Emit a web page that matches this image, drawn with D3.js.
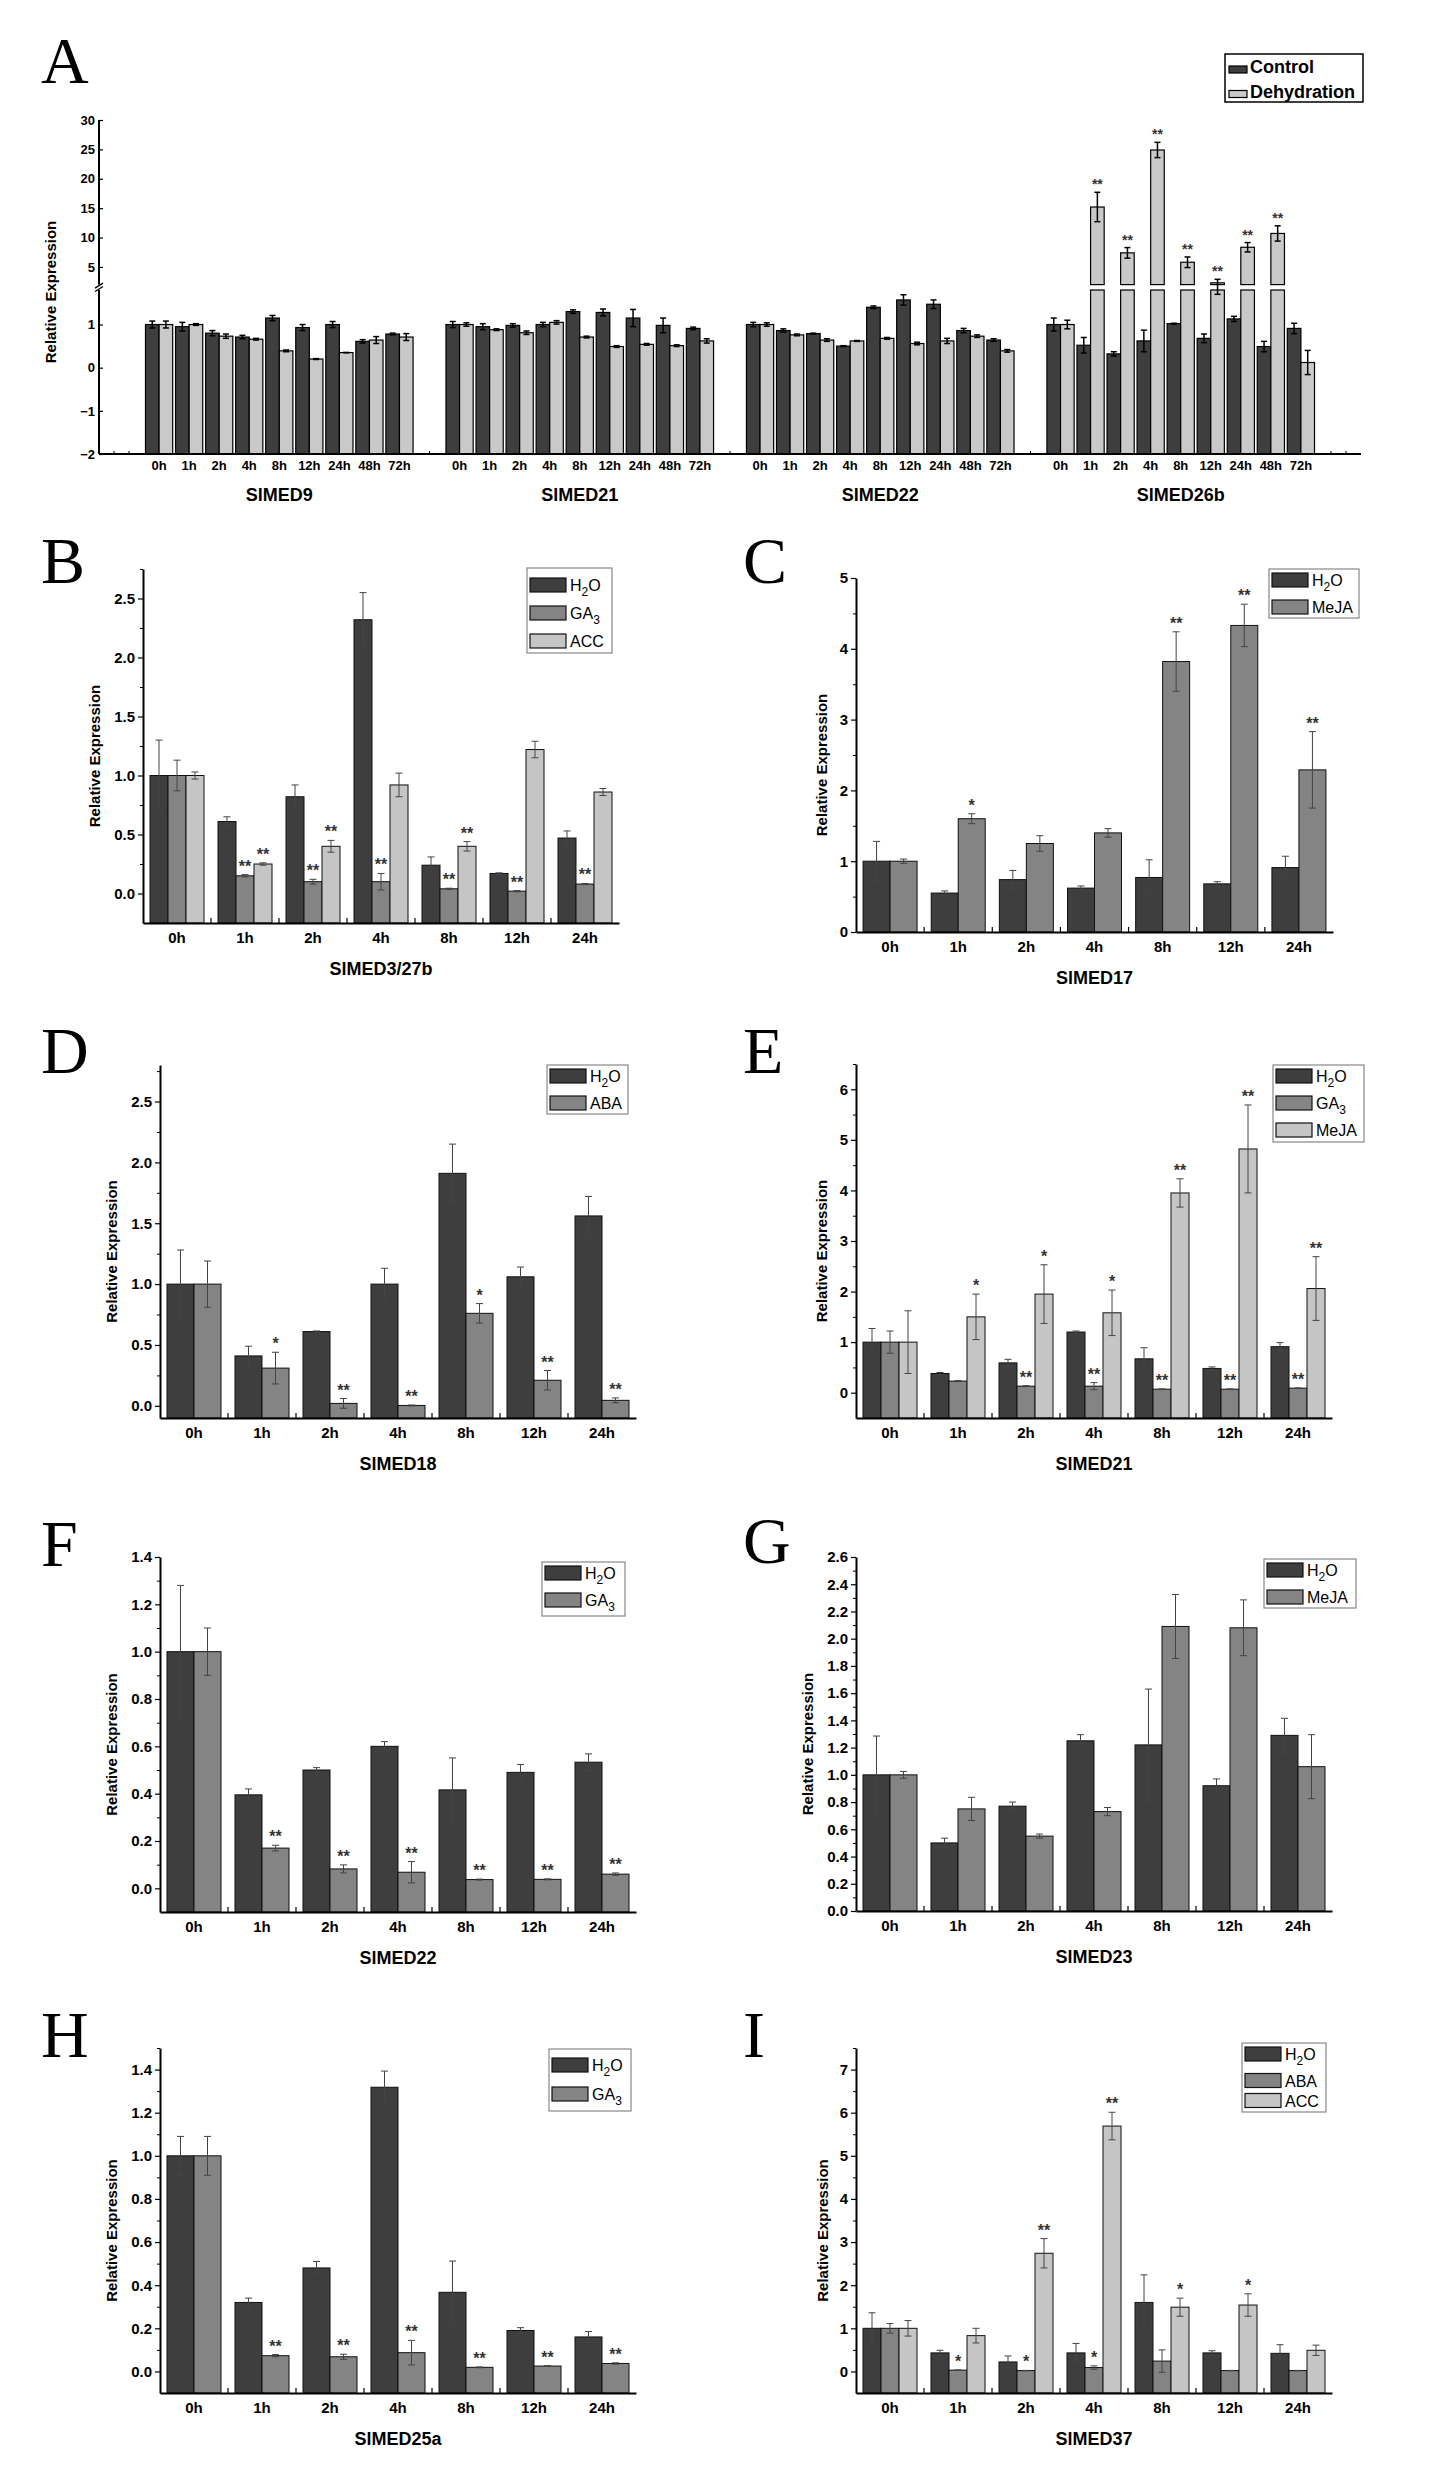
<!DOCTYPE html>
<html><head><meta charset="utf-8">
<script src="https://cdn.jsdelivr.net/npm/d3@7"></script>
<style>body{margin:0;background:#fff}svg{display:block}</style>
</head><body>
<svg id="fig" width="1432" height="2487"></svg>
<script>
// ---------------- DATA ----------------
// Panel A
const timesA = ["0h","1h","2h","4h","8h","12h","24h","48h","72h"];
const genesA = ["SlMED9","SlMED21","SlMED22","SlMED26b"];
const seriesA = ["Control","Dehydration"];
const controlA = [
 [1.00,0.95,0.80,0.71,1.15,0.93,1.00,0.61,0.78],
 [1.00,0.95,0.98,1.00,1.30,1.28,1.15,0.98,0.91],
 [1.00,0.86,0.79,0.50,1.40,1.57,1.47,0.86,0.64],
 [1.00,0.52,0.32,0.62,1.02,0.68,1.13,0.49,0.91]];
const controlErrA = [
 [0.08,0.10,0.06,0.04,0.06,0.07,0.07,0.04,0.02],
 [0.07,0.07,0.04,0.05,0.04,0.08,0.20,0.17,0.03],
 [0.05,0.04,0.01,0.01,0.03,0.12,0.10,0.05,0.03],
 [0.15,0.18,0.05,0.25,0.01,0.10,0.06,0.12,0.12]];
const dehydA = [
 [1.00,1.00,0.73,0.66,0.39,0.20,0.35,0.64,0.71],
 [1.00,0.88,0.81,1.05,0.71,0.49,0.54,0.51,0.62],
 [1.00,0.76,0.64,0.62,0.68,0.56,0.62,0.73,0.39],
 [1.00,15.2,7.4,24.9,5.8,2.3,8.35,10.7,0.12]];
const dehydErrA = [
 [0.08,0.02,0.05,0.02,0.02,0.01,0.00,0.08,0.08],
 [0.04,0.02,0.04,0.04,0.02,0.02,0.02,0.02,0.05],
 [0.04,0.02,0.03,0.01,0.02,0.03,0.06,0.03,0.03],
 [0.10,2.5,0.9,1.3,0.9,0.6,0.8,1.3,0.28]];
const dehydSigA = [
 ["","","","","","","","",""],
 ["","","","","","","","",""],
 ["","","","","","","","",""],
 ["","**","**","**","**","**","**","**",""]];
const yTicksLowA = [-2,-1,0,1];
const yTicksUpA = [5,10,15,20,25,30];

// Panels B - I
const timesBI = ["0h","1h","2h","4h","8h","12h","24h"];

const seriesB = ["H2O","GA3","ACC"];
const valsB = [[1.00,0.61,0.82,2.32,0.24,0.17,0.47],[1.00,0.15,0.10,0.10,0.04,0.02,0.08],[1.00,0.25,0.40,0.92,0.40,1.22,0.86]];
const errsB = [[0.30,0.04,0.10,0.23,0.07,0.005,0.06],[0.13,0.01,0.02,0.07,0.005,0.005,0.005],[0.03,0.01,0.05,0.10,0.04,0.07,0.03]];
const sigsB = [["","","","","","",""],["","**","**","**","**","**","**"],["","**","**","","**","",""]];
const ticksB = [0,0.5,1.0,1.5,2.0,2.5];

const seriesC = ["H2O","MeJA"];
const valsC = [[1.0,0.55,0.74,0.62,0.77,0.68,0.91],[1.0,1.60,1.25,1.40,3.82,4.33,2.29]];
const errsC = [[0.28,0.03,0.13,0.03,0.25,0.03,0.16],[0.03,0.07,0.11,0.06,0.42,0.30,0.54]];
const sigsC = [["","","","","","",""],["","*","","","**","**","**"]];
const ticksC = [0,1,2,3,4,5];

const seriesD = ["H2O","ABA"];
const valsD = [[1.0,0.41,0.61,1.00,1.91,1.06,1.56],[1.0,0.31,0.02,0.003,0.76,0.21,0.045]];
const errsD = [[0.28,0.08,0.005,0.13,0.24,0.08,0.16],[0.19,0.13,0.04,0.004,0.08,0.08,0.02]];
const sigsD = [["","","","","","",""],["","*","**","**","*","**","**"]];
const ticksD = [0,0.5,1.0,1.5,2.0,2.5];

const seriesE = ["H2O","GA3","MeJA"];
const valsE = [[1.0,0.38,0.59,1.20,0.67,0.48,0.91],[1.0,0.23,0.13,0.13,0.07,0.07,0.09],[1.0,1.50,1.95,1.58,3.95,4.82,2.06]];
const errsE = [[0.27,0.02,0.07,0.02,0.22,0.03,0.08],[0.22,0.01,0.01,0.07,0.005,0.005,0.005],[0.62,0.45,0.58,0.45,0.28,0.87,0.63]];
const sigsE = [["","","","","","",""],["","","**","**","**","**","**"],["","*","*","*","**","**","**"]];
const ticksE = [0,1,2,3,4,5,6];

const seriesF = ["H2O","GA3"];
const valsF = [[1.0,0.395,0.50,0.60,0.416,0.49,0.533],[1.0,0.17,0.082,0.068,0.037,0.038,0.06]];
const errsF = [[0.28,0.025,0.01,0.02,0.135,0.033,0.035],[0.10,0.012,0.017,0.045,0.002,0.002,0.005]];
const sigsF = [["","","","","","",""],["","**","**","**","**","**","**"]];
const ticksF = [0,0.2,0.4,0.6,0.8,1.0,1.2,1.4];

const seriesG = ["H2O","MeJA"];
const valsG = [[1.0,0.50,0.77,1.25,1.22,0.92,1.29],[1.0,0.75,0.55,0.73,2.09,2.08,1.06]];
const errsG = [[0.285,0.035,0.03,0.045,0.41,0.05,0.125],[0.025,0.085,0.015,0.03,0.235,0.205,0.235]];
const sigsG = [["","","","","","",""],["","","","","","",""]];
const ticksG = [0,0.2,0.4,0.6,0.8,1.0,1.2,1.4,1.6,1.8,2.0,2.2,2.4,2.6];

const seriesH = ["H2O","GA3"];
const valsH = [[1.0,0.32,0.48,1.318,0.367,0.19,0.16],[1.0,0.073,0.068,0.087,0.019,0.025,0.037]];
const errsH = [[0.09,0.02,0.03,0.075,0.145,0.013,0.025],[0.09,0.005,0.012,0.057,0.002,0.002,0.003]];
const sigsH = [["","","","","","",""],["","**","**","**","**","**","**"]];
const ticksH = [0,0.2,0.4,0.6,0.8,1.0,1.2,1.4];

const seriesI = ["H2O","ABA","ACC"];
const valsI = [[1.0,0.43,0.22,0.43,1.60,0.43,0.42],[1.0,0.03,0.02,0.09,0.24,0.02,0.02],[1.0,0.83,2.74,5.69,1.49,1.54,0.49]];
const errsI = [[0.36,0.06,0.14,0.22,0.64,0.05,0.20],[0.11,0.005,0.005,0.04,0.26,0.005,0.005],[0.18,0.17,0.34,0.32,0.21,0.26,0.12]];
const sigsI = [["","","","","","",""],["","*","*","*","","",""],["","","**","**","*","*",""]];
const ticksI = [0,1,2,3,4,5,6,7];

const genesBI = ["SlMED3/27b","SlMED17","SlMED18","SlMED21","SlMED22","SlMED23","SlMED25a","SlMED37"];
const lettersBI = ["B","C","D","E","F","G","H","I"];

// ---------------- LAYOUT / STYLE ----------------
const FONT = "'Liberation Sans', Arial, Helvetica, sans-serif";
const SERIF = "'Liberation Serif', 'Times New Roman', serif";
const COLORS = ["#3e3e3e","#848484","#c5c5c5"];
const svg = d3.select("#fig");
svg.append("rect").attr("width",1432).attr("height",2487).attr("fill","#fff");

function letter(txt, x, y){
  svg.append("text").attr("x",x).attr("y",y).attr("font-family",SERIF)
    .attr("font-size",66).attr("fill","#000").text(txt);
}
function richLabel(sel, label){
  const parts = label.match(/[A-Za-z]+|\d/g);
  let sub = false;
  parts.forEach(p => {
    if (/\d/.test(p)) { sel.append("tspan").attr("dy",5).attr("font-size",12).text(p); sub = true; }
    else { const t = sel.append("tspan"); if (sub) { t.attr("dy",-5); sub = false; } t.text(p); }
  });
}

// ---------------- PANEL A ----------------
(function(){
  const g = svg.append("g");
  const ax0 = 99, ax1 = 1361, yBase = 454;
  const slot = d3.scaleLinear().domain([0,42]).range([ax0,ax1]);
  const yLow = d3.scaleLinear().domain([-2,1.8]).range([yBase,290]);
  const yUp = d3.scaleLinear().domain([2,30]).range([284.6,120]);
  const yA = v => v <= 1.8 ? yLow(v) : (v >= 2 ? yUp(v) : yLow(1.8) + (v-1.8)/0.2*(yUp(2)-yLow(1.8)));
  const slotW = slot(1) - slot(0);
  const bw = 13.6;
  const groups = genesA.map((gene, gi) => ({gene, gi}));

  [controlA, dehydA].forEach((vals, si) => {
    const errs = si === 0 ? controlErrA : dehydErrA;
    const fill = si === 0 ? "#3e3e3e" : "#c9c9c9";
    groups.forEach(({gi}) => {
      vals[gi].forEach((v, ti) => {
        const cx = slot(1.5 + gi*10 + ti) + slotW/2;
        const bx = si === 0 ? cx - bw : cx;
        if (v <= 1.8) {
          g.append("rect").attr("x",bx).attr("y",yA(v)).attr("width",bw).attr("height",yA(-2)-yA(v))
            .attr("fill",fill).attr("stroke","#000").attr("stroke-width",1.2);
        } else {
          g.append("rect").attr("x",bx).attr("y",yLow(1.8)).attr("width",bw).attr("height",yLow(-2)-yLow(1.8))
            .attr("fill",fill).attr("stroke","#000").attr("stroke-width",1.2);
          g.append("rect").attr("x",bx).attr("y",yUp(v)).attr("width",bw).attr("height",yUp(2)-yUp(v))
            .attr("fill",fill).attr("stroke","#000").attr("stroke-width",1.2);
        }
        const e = errs[gi][ti], ex = bx + bw/2;
        const y1 = yA(v+e), y2 = yA(v-e);
        g.append("line").attr("x1",ex).attr("x2",ex).attr("y1",y1).attr("y2",y2).attr("stroke","#000").attr("stroke-width",1.5);
        [y1,y2].forEach(yy => g.append("line").attr("x1",ex-3).attr("x2",ex+3).attr("y1",yy).attr("y2",yy).attr("stroke","#000").attr("stroke-width",1.5));
        if (si === 1 && dehydSigA[gi][ti]) {
          g.append("text").attr("x",ex).attr("y",y1-3).attr("text-anchor","middle")
            .attr("font-family",FONT).attr("font-size",14).attr("font-weight","bold").attr("fill","#333").text(dehydSigA[gi][ti]);
        }
      });
    });
  });

  // y axis
  g.append("line").attr("x1",ax0).attr("x2",ax0).attr("y1",yUp(30)).attr("y2",yBase).attr("stroke","#000").attr("stroke-width",2);
  g.append("rect").attr("x",ax0-4).attr("y",yUp(2)).attr("width",8).attr("height",yLow(1.8)-yUp(2)).attr("fill","#fff");
  [yUp(2)+1, yLow(1.8)-1].forEach(yy => g.append("line").attr("x1",ax0-4).attr("x2",ax0+4).attr("y1",yy+2.5).attr("y2",yy-2.5).attr("stroke","#000").attr("stroke-width",1.3));
  const axLow = d3.axisLeft(yLow).tickValues(yTicksLowA).tickSize(-4).tickPadding(4).tickFormat(d3.format("d"));
  const axUp = d3.axisLeft(yUp).tickValues(yTicksUpA).tickSize(-4).tickPadding(4).tickFormat(d3.format("d"));
  [axLow, axUp].forEach(ax => {
    const a = g.append("g").attr("transform",`translate(${ax0},0)`).call(ax);
    a.select(".domain").remove();
    a.attr("font-family",FONT).attr("font-size",13).attr("font-weight","bold");
    a.selectAll("line").attr("stroke","#000").attr("stroke-width",1.2);
  });
  // x axis
  g.append("line").attr("x1",ax0).attr("x2",ax1).attr("y1",yBase).attr("y2",yBase).attr("stroke","#000").attr("stroke-width",2);
  [0.5,1,11,21,31,41,41.5].forEach(s => g.append("line").attr("x1",slot(s)).attr("x2",slot(s)).attr("y1",yBase).attr("y2",yBase-3).attr("stroke","#000"));
  groups.forEach(({gene, gi}) => {
    timesA.forEach((t, ti) => {
      g.append("text").attr("x",slot(1.5+gi*10+ti)+slotW/2).attr("y",yBase+16).attr("text-anchor","middle")
        .attr("font-family",FONT).attr("font-size",13).attr("font-weight","bold").text(t);
    });
    g.append("text").attr("x",slot(1.5+gi*10+4.5)).attr("y",yBase+47).attr("text-anchor","middle")
      .attr("font-family",FONT).attr("font-size",18).attr("font-weight","bold").text(gene);
  });
  g.append("text").attr("transform",`translate(50,${(yUp(30)+yBase)/2+5}) rotate(-90)`).attr("text-anchor","middle")
    .attr("dominant-baseline","central").attr("font-family",FONT).attr("font-size",15).attr("font-weight","bold").text("Relative Expression");
  // legend
  const lg = g.append("g");
  lg.append("rect").attr("x",1225).attr("y",54).attr("width",138).attr("height",48).attr("fill","#fff").attr("stroke","#000").attr("stroke-width",1.5);
  seriesA.forEach((s, i) => {
    lg.append("rect").attr("x",1229).attr("y",66+i*24.5).attr("width",18).attr("height",7)
      .attr("fill", i===0 ? "#3e3e3e" : "#c9c9c9").attr("stroke","#000").attr("stroke-width",1.2);
    lg.append("text").attr("x",1250).attr("y",73+i*24.5).attr("font-family",FONT).attr("font-size",18)
      .attr("font-weight","bold").text(s);
  });
  letter("A", 41, 83);
})();

// ---------------- PANELS B - I ----------------
const dataBI = [
  {series:seriesB, vals:valsB, errs:errsB, sigs:sigsB, ticks:ticksB},
  {series:seriesC, vals:valsC, errs:errsC, sigs:sigsC, ticks:ticksC},
  {series:seriesD, vals:valsD, errs:errsD, sigs:sigsD, ticks:ticksD},
  {series:seriesE, vals:valsE, errs:errsE, sigs:sigsE, ticks:ticksE},
  {series:seriesF, vals:valsF, errs:errsF, sigs:sigsF, ticks:ticksF},
  {series:seriesG, vals:valsG, errs:errsG, sigs:sigsG, ticks:ticksG},
  {series:seriesH, vals:valsH, errs:errsH, sigs:sigsH, ticks:ticksH},
  {series:seriesI, vals:valsI, errs:errsI, sigs:sigsI, ticks:ticksI}
];
const layoutBI = [
  {x0:143,x1:619, yTop:569, yBot:923, dom:[-0.25,2.75], minor:0.25, fmt:".1f", tdx:49, lx:41, ly:583,
   leg:{x:527,y:568,w:85,h:85,rows:[17,45,73]}},
  {x0:856,x1:1333,yTop:578, yBot:932, dom:[0,5], minor:0.5, fmt:"d", tdx:35, lx:743, ly:583,
   leg:{x:1269,y:569,w:90,h:49,rows:[11,38]}},
  {x0:160,x1:636, yTop:1065,yBot:1418,dom:[-0.1,2.8], minor:0.25, fmt:".1f", tdx:49, lx:41, ly:1073,
   leg:{x:547,y:1065,w:81,h:49,rows:[11,38]}},
  {x0:856,x1:1332,yTop:1064,yBot:1418,dom:[-0.5,6.5], minor:0.5, fmt:"d", tdx:35, lx:743, ly:1073,
   leg:{x:1273,y:1065,w:91,h:77,rows:[11,38,65]}},
  {x0:160,x1:636, yTop:1557,yBot:1912,dom:[-0.1,1.4], minor:0.1, fmt:".1f", tdx:49, lx:41, ly:1566,
   leg:{x:542,y:1562,w:83,h:54,rows:[11,38]}},
  {x0:856,x1:1332,yTop:1557,yBot:1911,dom:[0,2.6], minor:0.1, fmt:".1f", tdx:49, lx:743, ly:1563,
   leg:{x:1264,y:1559,w:92,h:49,rows:[11,38]}},
  {x0:160,x1:636, yTop:2048,yBot:2393,dom:[-0.1,1.5], minor:0.1, fmt:".1f", tdx:49, lx:41, ly:2057,
   leg:{x:549,y:2049,w:82,h:62,rows:[16,45]}},
  {x0:856,x1:1332,yTop:2048,yBot:2393,dom:[-0.5,7.5], minor:0.5, fmt:"d", tdx:34, lx:743, ly:2057,
   leg:{x:1242,y:2043,w:84,h:69,rows:[11,37.5,57.5]}}
];

function drawPanel(L, D, gene, let_){
  const g = svg.append("g");
  const x = d3.scaleBand().domain(timesBI).range([L.x0, L.x1]);
  const y = d3.scaleLinear().domain(L.dom).range([L.yBot, L.yTop]);
  const n = D.vals.length, gw = 54;
  const inner = d3.scaleBand().domain(d3.range(n)).range([0, gw]);
  const off = (x.bandwidth() - gw) / 2;

  // minor y ticks
  const minorVals = d3.range(Math.ceil(L.dom[0]/L.minor-1e-9), Math.floor(L.dom[1]/L.minor+1e-9)+1)
    .map(k => +(k*L.minor).toFixed(4)).filter(v => !D.ticks.some(t => Math.abs(t-v) < 1e-6) && v > L.dom[0] + 1e-6);
  const mi = g.append("g").attr("transform",`translate(${L.x0},0)`)
    .call(d3.axisLeft(y).tickValues(minorVals).tickSize(3).tickFormat(""));
  mi.select(".domain").remove();
  mi.selectAll("line").attr("stroke","#000");

  D.vals.forEach((arr, si) => {
    arr.forEach((v, ti) => {
      const bx = x(timesBI[ti]) + off + inner(si);
      g.append("rect").attr("x",bx).attr("y",y(v)).attr("width",inner.bandwidth())
        .attr("height",y(L.dom[0]) - y(v)).attr("fill",COLORS[si]).attr("stroke","#111").attr("stroke-width",1);
    });
  });
  D.vals.forEach((arr, si) => {
    arr.forEach((v, ti) => {
      const ex = x(timesBI[ti]) + off + inner(si) + inner.bandwidth()/2;
      const e = D.errs[si][ti];
      const y1 = y(v + e), y2 = y(v - e);
      g.append("line").attr("x1",ex).attr("x2",ex).attr("y1",y1).attr("y2",y2).attr("stroke","#444").attr("stroke-width",1);
      [y1, y2].forEach(yy => g.append("line").attr("x1",ex-3.5).attr("x2",ex+3.5).attr("y1",yy).attr("y2",yy).attr("stroke","#444").attr("stroke-width",1));
      const s = D.sigs[si][ti];
      if (s) g.append("text").attr("x",ex).attr("y",y1-3).attr("text-anchor","middle").attr("font-family",FONT)
        .attr("font-size",16).attr("font-weight","bold").attr("fill","#333").text(s);
    });
  });

  // y axis
  const ya = g.append("g").attr("transform",`translate(${L.x0},0)`)
    .call(d3.axisLeft(y).tickValues(D.ticks).tickFormat(d3.format(L.fmt)).tickSize(5).tickSizeOuter(0).tickPadding(3));
  ya.attr("font-family",FONT).attr("font-size",15).attr("font-weight","bold");
  ya.select(".domain").attr("stroke","#000").attr("stroke-width",2);
  ya.selectAll("line").attr("stroke","#000").attr("stroke-width",1.2);
  ya.selectAll("text").attr("fill","#000");
  // x axis
  const xa = g.append("g").attr("transform",`translate(0,${L.yBot})`)
    .call(d3.axisBottom(x).tickSize(0).tickSizeOuter(0).tickPadding(9));
  xa.attr("font-family",FONT).attr("font-size",15).attr("font-weight","bold");
  xa.select(".domain").attr("stroke","#000").attr("stroke-width",2);
  xa.selectAll("text").attr("fill","#000");
  g.selectAll("line.bt").data(timesBI.slice(1)).join("line").attr("class","bt")
    .attr("x1",d => x(d)).attr("x2",d => x(d)).attr("y1",L.yBot).attr("y2",L.yBot-5).attr("stroke","#000").attr("stroke-width",1.2);

  // titles
  g.append("text").attr("transform",`translate(${L.x0 - L.tdx},${(L.yTop+L.yBot)/2 + 10}) rotate(-90)`)
    .attr("text-anchor","middle").attr("dominant-baseline","central").attr("font-family",FONT)
    .attr("font-size",15).attr("font-weight","bold").text("Relative Expression");
  g.append("text").attr("x",(L.x0+L.x1)/2).attr("y",L.yBot+52).attr("text-anchor","middle")
    .attr("font-family",FONT).attr("font-size",18).attr("font-weight","bold").text(gene);

  // legend
  const lg = g.append("g");
  lg.append("rect").attr("x",L.leg.x).attr("y",L.leg.y).attr("width",L.leg.w).attr("height",L.leg.h)
    .attr("fill","#fff").attr("stroke","#888").attr("stroke-width",1.2);
  D.series.forEach((s, i) => {
    const cy = L.leg.y + L.leg.rows[i];
    lg.append("rect").attr("x",L.leg.x+3).attr("y",cy-7).attr("width",36).attr("height",14)
      .attr("fill",COLORS[i]).attr("stroke","#111").attr("stroke-width",1.2);
    const t = lg.append("text").attr("x",L.leg.x+43).attr("y",cy+6).attr("font-family",FONT).attr("font-size",16).attr("fill","#000");
    richLabel(t, s);
  });
  letter(let_, L.lx, L.ly);
}

layoutBI.forEach((L, i) => drawPanel(L, dataBI[i], genesBI[i], lettersBI[i]));
</script>
</body></html>
